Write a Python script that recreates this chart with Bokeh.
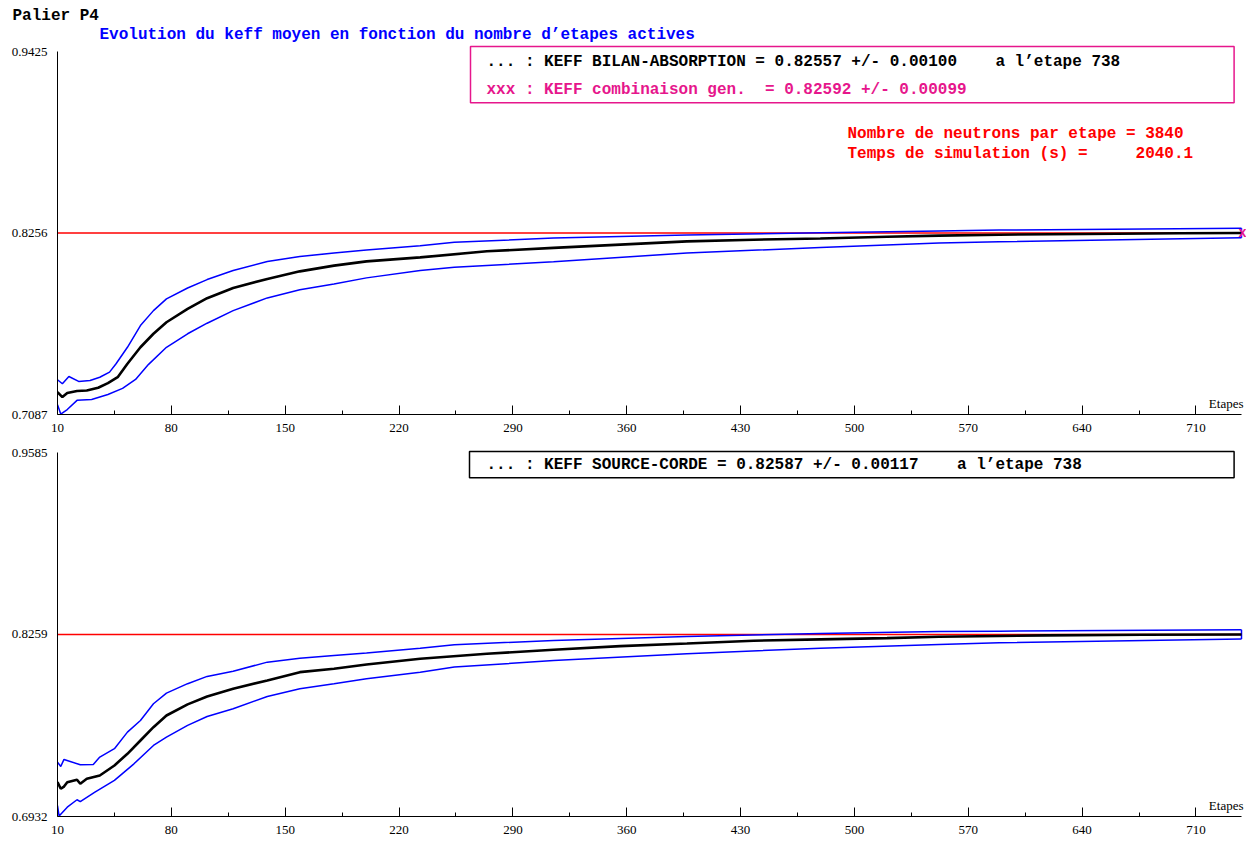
from bokeh.plotting import figure
from bokeh.layouts import column
from bokeh.models import Range1d, FixedTicker, Label, PrintfTickFormatter, Title
from bokeh.embed import file_html
from bokeh.resources import INLINE

# ---------------- data ----------------
x_ticks = [10, 80, 150, 220, 290, 360, 430, 500, 570, 640, 710]
x_minor = [45, 115, 185, 255, 325, 395, 465, 535, 605, 675]
x_first, x_last = 10, 738

# top panel : KEFF BILAN-ABSORPTION
top_y_ticks = [0.7087, 0.8256, 0.9425]
top_keff = 0.82557
top_keff_comb = 0.82592
top_mean_x = [10, 13, 16, 22, 28, 35, 41, 47, 53, 61, 69, 77, 90, 102, 118, 139, 159, 180,
              200, 233, 274, 315, 356, 397, 438, 479, 520, 552, 589, 642, 700, 738]
top_mean_y = [0.7231, 0.7199, 0.7225, 0.7238, 0.7242, 0.7259, 0.7289, 0.7327, 0.7414, 0.7520,
              0.7607, 0.7681, 0.7767, 0.7836, 0.7902, 0.7960, 0.8009, 0.8046, 0.8073, 0.8099,
              0.8138, 0.8160, 0.8181, 0.8202, 0.8213, 0.8221, 0.8232, 0.8239, 0.8245, 0.8250,
              0.8254, 0.8256]
top_up_x = [10, 13, 17, 23, 30, 36, 42, 46, 53, 61, 69, 77, 90, 102, 118, 139, 159, 180, 200,
            233, 254, 315, 397, 479, 552, 589, 738]
top_up_y = [0.7311, 0.7285, 0.7332, 0.7300, 0.7306, 0.7327, 0.7360, 0.7414, 0.7520, 0.7660,
            0.7756, 0.7832, 0.7902, 0.7956, 0.8014, 0.8073, 0.8104, 0.8127, 0.8147, 0.8174,
            0.8196, 0.8224, 0.8243, 0.8258, 0.8269, 0.8275, 0.8286]
top_lo_x = [10, 12, 16, 22, 31, 41, 50, 58, 66, 77, 90, 102, 118, 139, 159, 180, 200, 233,
            254, 315, 397, 479, 552, 589, 738]
top_lo_y = [0.7150, 0.7090, 0.7119, 0.7178, 0.7184, 0.7216, 0.7255, 0.7313, 0.7410, 0.7520,
            0.7607, 0.7675, 0.7756, 0.7838, 0.7890, 0.7928, 0.7967, 0.8014, 0.8035, 0.8071,
            0.8127, 0.8163, 0.8192, 0.8200, 0.8226]

# bottom panel : KEFF SOURCE-CORDE
bot_y_ticks = [0.6932, 0.8259, 0.9585]
bot_keff = 0.82587
bot_mean_x = [10, 12, 14, 16, 22, 24, 28, 36, 45, 53, 61, 69, 77, 90, 102, 118, 139, 159, 180,
              200, 233, 274, 315, 356, 397, 438, 479, 520, 552, 589, 618, 677, 738]
bot_mean_y = [0.7182, 0.7134, 0.7150, 0.7182, 0.7200, 0.7171, 0.7207, 0.7231, 0.7304, 0.7389,
              0.7486, 0.7583, 0.7668, 0.7749, 0.7807, 0.7863, 0.7924, 0.7984, 0.8009, 0.8040,
              0.8082, 0.8118, 0.8147, 0.8174, 0.8193, 0.8213, 0.8223, 0.8232, 0.8242, 0.8248,
              0.8252, 0.8257, 0.8259]
bot_up_x = [10, 12, 14, 24, 32, 36, 45, 53, 61, 69, 77, 90, 102, 118, 139, 159, 180, 200, 233,
            254, 315, 397, 479, 552, 589, 738]
bot_up_y = [0.7328, 0.7297, 0.7348, 0.7309, 0.7311, 0.7365, 0.7426, 0.7547, 0.7632, 0.7754,
            0.7831, 0.7900, 0.7953, 0.7991, 0.8057, 0.8086, 0.8106, 0.8123, 0.8159, 0.8184,
            0.8215, 0.8244, 0.8266, 0.8281, 0.8283, 0.8293]
bot_lo_x = [10, 11, 16, 22, 24, 33, 45, 57, 69, 77, 90, 102, 118, 139, 159, 180, 200, 233, 254,
            315, 397, 479, 552, 589, 738]
bot_lo_y = [0.7012, 0.6935, 0.7000, 0.7054, 0.7040, 0.7109, 0.7195, 0.7316, 0.7450, 0.7510,
            0.7596, 0.7661, 0.7717, 0.7807, 0.7863, 0.7900, 0.7936, 0.7984, 0.8021, 0.8069,
            0.8118, 0.8159, 0.8186, 0.8198, 0.8225]

# ---------------- style / layout ----------------
MONO = "Liberation Mono"
SERIF = "Liberation Serif"
PINK = "#E6168C"
BLUE = "#0000FF"
RED = "#FF0000"
NB = "\u00a0"

AXIS_W = 1184          # pixel length of the x axis (10 .. 738)
PAD_R = 5              # frame space to the right of the axis end
FRAME_W = AXIS_W + PAD_R


def make_fig(y_ticks, axis_h, pad_top, b_top, b_bottom):
    x_end = x_last + (x_last - x_first) * PAD_R / AXIS_W
    y_end = y_ticks[-1] + (y_ticks[-1] - y_ticks[0]) * pad_top / axis_h
    p = figure(frame_width=FRAME_W, frame_height=axis_h + pad_top,
               x_range=Range1d(x_first, x_end), y_range=Range1d(y_ticks[0], y_end),
               output_backend="svg", toolbar_location=None,
               min_border_left=57, min_border_right=0,
               min_border_top=b_top, min_border_bottom=b_bottom)
    p.grid.visible = False
    p.outline_line_color = None
    p.background_fill_color = "white"
    p.border_fill_color = "white"
    xa = p.xaxis[0]
    xa.bounds = (x_first, x_last)
    xa.ticker = FixedTicker(ticks=x_ticks, minor_ticks=x_minor)
    xa.major_tick_in = 9
    xa.major_tick_out = 0
    xa.minor_tick_in = 4
    xa.minor_tick_out = 0
    xa.major_label_standoff = 9
    xa.axis_line_color = "black"
    xa.major_tick_line_color = "black"
    xa.minor_tick_line_color = "black"
    xa.major_label_text_font = SERIF
    xa.major_label_text_font_size = "13px"
    xa.major_label_text_color = "black"
    ya = p.yaxis[0]
    ya.bounds = (y_ticks[0], y_ticks[-1])
    ya.ticker = FixedTicker(ticks=y_ticks, minor_ticks=[])
    ya.formatter = PrintfTickFormatter(format="%.4f")
    ya.major_tick_in = 0
    ya.major_tick_out = 0
    ya.minor_tick_in = 0
    ya.minor_tick_out = 0
    ya.major_label_standoff = 10
    ya.axis_line_color = "black"
    ya.major_label_text_font = SERIF
    ya.major_label_text_font_size = "13px"
    ya.major_label_text_color = "black"
    p.add_layout(Label(x=x_last, y=y_ticks[0], x_offset=2, y_offset=11, text="Etapes",
                       text_align="right", text_baseline="alphabetic",
                       text_font=SERIF, text_font_size="13px", text_color="black"))
    return p


def draw_curves(p, keff, mx, my, ux, uy, lx, ly):
    p.line([x_first, x_last], [keff, keff], line_color=RED, line_width=1.5)
    p.line(ux, uy, line_color=BLUE, line_width=1.5)
    p.line(lx, ly, line_color=BLUE, line_width=1.5)
    p.segment(x0=[ux[-1]], y0=[ly[-1]], x1=[ux[-1]], y1=[uy[-1]], line_color=BLUE, line_width=1.5)
    p.line(mx, my, line_color="black", line_width=2.6)


def txt(p, x, y, s, color, size="16px"):
    p.add_layout(Label(x=x, y=y, x_units="screen", y_units="screen", text=s.replace(" ", NB),
                       text_font=MONO, text_font_style="bold", text_font_size=size,
                       text_color=color, text_baseline="middle", text_align="left"))


def box(p, left, top, w, h, color):
    # empty label whose padded border draws the frame box
    p.add_layout(Label(x=left, y=top, x_units="screen", y_units="screen", text=NB,
                       text_font=MONO, text_font_size="1px", text_align="left",
                       text_baseline="top", padding=(0, w, h, 0),
                       border_line_color=color, border_line_width=1.5, border_line_alpha=1.0,
                       background_fill_color=None))


# ---------------- top ----------------
p1 = make_fig(top_y_ticks, 363, 25, 26, 24)
p1.add_layout(Title(text="Palier" + NB + "P4", align="left", offset=-45, standoff=3,
                    text_font=MONO, text_font_style="bold", text_font_size="16px",
                    text_color="black"), "above")
draw_curves(p1, top_keff, top_mean_x, top_mean_y, top_up_x, top_up_y, top_lo_x, top_lo_y)
p1.add_layout(Label(x=x_last, y=top_keff_comb, x_offset=1, text="x", text_align="center",
                    text_baseline="alphabetic", text_font=MONO, text_font_style="bold",
                    text_font_size="14px", text_color=PINK))
txt(p1, 42, 380, "Evolution du keff moyen en fonction du nombre d\u2019etapes actives", BLUE)
box(p1, 413, 368, 763, 55, PINK)
txt(p1, 429, 353, "... : KEFF BILAN-ABSORPTION = %.5f +/- 0.00100    a l\u2019etape %d"
    % (top_keff, x_last), "black")
txt(p1, 429, 325, "xxx : KEFF combinaison gen.  = %.5f +/- 0.00099" % top_keff_comb, PINK)
txt(p1, 790, 281, "Nombre de neutrons par etape = 3840", RED)
txt(p1, 790, 261, "Temps de simulation (s) =     2040.1", RED)

# ---------------- bottom ----------------
p2 = make_fig(bot_y_ticks, 364, 14, 0, 26)
draw_curves(p2, bot_keff, bot_mean_x, bot_mean_y, bot_up_x, bot_up_y, bot_lo_x, bot_lo_y)
box(p2, 412, 365, 764, 25, "black")
txt(p2, 429, 352, "... : KEFF SOURCE-CORDE = %.5f +/- 0.00117    a l\u2019etape %d"
    % (bot_keff, x_last), "black")

layout = column(p1, p2, spacing=0)
open("out.html", "w").write(file_html(layout, INLINE))
